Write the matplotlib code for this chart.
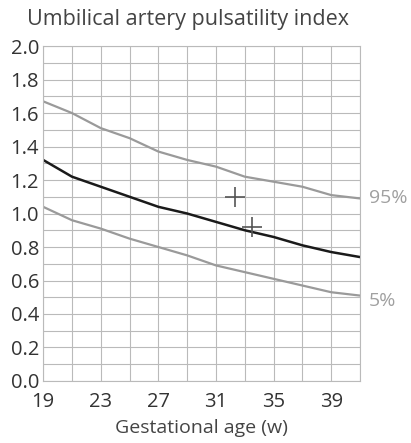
import numpy as np
import matplotlib
matplotlib.use("Agg")
import matplotlib.pyplot as plt

# gestational age (weeks) and centile curves
weeks = [19, 21, 23, 25, 27, 29, 31, 33, 35, 37, 39, 41]
p95 = [1.67, 1.60, 1.51, 1.45, 1.37, 1.32, 1.28, 1.22, 1.19, 1.16, 1.11, 1.09]
p50 = [1.32, 1.22, 1.16, 1.10, 1.04, 1.00, 0.95, 0.90, 0.86, 0.81, 0.77, 0.74]
p05 = [1.04, 0.96, 0.91, 0.85, 0.80, 0.75, 0.69, 0.65, 0.61, 0.57, 0.53, 0.51]

# two measured points
obs_weeks = [32.3, 33.5]
obs_pi = [1.10, 0.92]

x_ticks = [19, 23, 27, 31, 35, 39]
y_ticks = [0.0, 0.2, 0.4, 0.6, 0.8, 1.0, 1.2, 1.4, 1.6, 1.8, 2.0]

plt.rcParams['font.family'] = ['Open Sans', 'DejaVu Sans']

fig = plt.figure(figsize=(4.11, 4.43), dpi=100)
ax = fig.add_axes([0.105, 0.140, 0.771, 0.756])

ax.plot(weeks, p95, color='#9a9a9a', lw=1.6)
ax.plot(weeks, p05, color='#9a9a9a', lw=1.6)
ax.plot(weeks, p50, color='#1a1a1a', lw=1.8)
ax.plot(obs_weeks, obs_pi, linestyle='none', marker='+', markersize=14,
        markeredgewidth=1.2, color='#555555')

ax.set_xlim(19, 41)
ax.set_ylim(0, 2.0)
ax.set_xticks(x_ticks)
ax.set_yticks(y_ticks)
ax.set_yticklabels([f"{v:.1f}" for v in y_ticks])
ax.set_xticks(np.arange(19, 42, 2), minor=True)
ax.set_yticks(np.arange(0, 2.01, 0.1), minor=True)
ax.grid(which='both', color='#bababa', lw=0.8)
ax.set_axisbelow(True)
ax.tick_params(which='both', length=0)
ax.tick_params(axis='y', labelsize=14.5, pad=3, colors='#333333')
ax.tick_params(axis='x', labelsize=14.5, pad=8, colors='#333333')
for s in ax.spines.values():
    s.set_color('#bababa')
    s.set_linewidth(0.8)

ax.text(41.6, p95[-1], "95%", color='#a0a0a0', fontsize=14, va='center', ha='left')
ax.text(41.6, p05[-1] - 0.03, "5%", color='#a0a0a0', fontsize=14, va='center', ha='left')

ax.set_xlabel("Gestational age (w)", fontsize=14, color='#444444', labelpad=5)
fig.text(0.065, 0.957, "Umbilical artery pulsatility index", fontsize=15.5,
         color='#444444', ha='left', va='center')

fig.savefig("out.png", dpi=100)
